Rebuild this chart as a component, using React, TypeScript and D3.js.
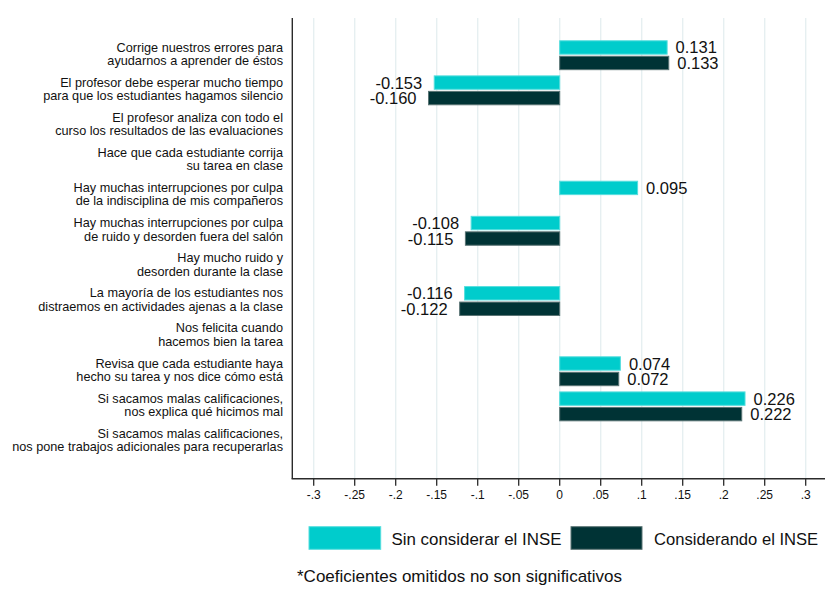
import React from "react";
import * as d3 from "d3";

const categories: string[][] = [
  ["Corrige nuestros errores para", "ayudarnos a aprender de éstos"],
  ["El profesor debe esperar mucho tiempo", "para que los estudiantes hagamos silencio"],
  ["El profesor analiza con todo el", "curso los resultados de las evaluaciones"],
  ["Hace que cada estudiante corrija", "su tarea en clase"],
  ["Hay muchas interrupciones por culpa", "de la indisciplina de mis compañeros"],
  ["Hay muchas interrupciones por culpa", "de ruido y desorden fuera del salón"],
  ["Hay mucho ruido y", "desorden durante la clase"],
  ["La mayoría de los estudiantes nos", "distraemos en actividades ajenas a la clase"],
  ["Nos felicita cuando", "hacemos bien la tarea"],
  ["Revisa que cada estudiante haya", "hecho su tarea y nos dice cómo está"],
  ["Si sacamos malas calificaciones,", "nos explica qué hicimos mal"],
  ["Si sacamos malas calificaciones,", "nos pone trabajos adicionales para recuperarlas"],
];

const sinINSE: (number | null)[] = [0.131, -0.153, null, null, 0.095, -0.108, null, -0.116, null, 0.074, 0.226, null];
const conINSE: (number | null)[] = [0.133, -0.16, null, null, null, -0.115, null, -0.122, null, 0.072, 0.222, null];

const xTicks: number[] = [-0.3, -0.25, -0.2, -0.15, -0.1, -0.05, 0, 0.05, 0.1, 0.15, 0.2, 0.25, 0.3];
const seriesNames: string[] = ["Sin considerar el INSE", "Considerando el INSE"];
const footnote = "*Coeficientes omitidos no son significativos";

const W = 825;
const H = 593;
const FONT = "'Liberation Sans', Arial, Helvetica, sans-serif";
const CYAN = "#00cccc";
const CYAN_STROKE = "#55dede";
const DARK = "#003335";
const DARK_STROKE = "#5a7474";

export default function App() {
  const plotLeft = 292.3;
  const plotTop = 18;
  const plotBottom = 478.7;

  const x = d3.scaleLinear().domain([-0.3, 0.3]).range([313.7, 805.7]);
  const y = d3
    .scaleBand<number>()
    .domain(d3.range(categories.length))
    .range([plotTop, plotBottom])
    .paddingInner(0)
    .paddingOuter(0.56);

  const barH = 13.4;
  const gap = 2.1;
  const fmt = (v: number) => (v < 0 ? "-" : "") + Math.abs(v).toFixed(3);

  const series = [
    { vals: sinINSE, fill: CYAN, stroke: CYAN_STROKE, off: -(gap / 2 + barH) },
    { vals: conINSE, fill: DARK, stroke: DARK_STROKE, off: gap / 2 },
  ];

  return (
    <svg
      width={W}
      height={H}
      viewBox={`0 0 ${W} ${H}`}
      style={{ position: "absolute", left: 0, top: 0, background: "#fff" }}
      fontFamily={FONT}
    >
      <rect x={0} y={0} width={W} height={H} fill="#fff" />
      {/* gridlines */}
      {xTicks.map((t) => (
        <line
          key={"g" + t}
          x1={x(t)}
          x2={x(t)}
          y1={plotTop}
          y2={plotBottom}
          stroke="#e6eff1"
          strokeWidth={1.4}
        />
      ))}
      {/* bars */}
      {series.map((s, si) =>
        s.vals.map((v, i) => {
          if (v === null) return null;
          const c = (y(i) as number) + y.bandwidth() / 2;
          const y0 = c + s.off;
          const x0 = Math.min(x(0), x(v));
          const w = Math.abs(x(v) - x(0));
          const ty = y0 + barH / 2 + 6;
          return (
            <g key={`b${si}-${i}`}>
              <rect x={x0} y={y0} width={w} height={barH} fill={s.fill} stroke={s.stroke} strokeWidth={1} />
              <text
                x={v >= 0 ? x(v) + 8.5 : x(v) - 12}
                y={ty}
                fontSize={16.5}
                textAnchor={v >= 0 ? "start" : "end"}
                fill="#111"
              >
                {fmt(v)}
              </text>
            </g>
          );
        })
      )}
      {/* axes */}
      <line x1={plotLeft} x2={plotLeft} y1={plotTop} y2={plotBottom} stroke="#2b2b2b" strokeWidth={1.4} />
      <line x1={plotLeft - 0.7} x2={W} y1={plotBottom} y2={plotBottom} stroke="#2b2b2b" strokeWidth={1.4} />
      {xTicks.map((t) => (
        <g key={"t" + t}>
          <line x1={x(t)} x2={x(t)} y1={plotBottom} y2={plotBottom + 7} stroke="#2b2b2b" strokeWidth={1.3} />
          <text x={x(t)} y={plotBottom + 20.5} fontSize={12} textAnchor="middle" fill="#111">
            {t === 0 ? "0" : (t < 0 ? "-" : "") + String(Math.abs(t)).replace(/^0/, "")}
          </text>
        </g>
      ))}
      {/* category labels */}
      {categories.map((lines, i) => {
        const c = (y(i) as number) + y.bandwidth() / 2;
        return (
          <text key={"c" + i} x={283} fontSize={12.7} textAnchor="end" fill="#111">
            <tspan x={283} y={c - 3.7}>{lines[0]}</tspan>
            <tspan x={283} y={c + 9.8}>{lines[1]}</tspan>
          </text>
        );
      })}
      {/* legend */}
      <rect x={309} y={526.7} width={71.7} height={22.6} fill={CYAN} stroke={CYAN_STROKE} strokeWidth={1} />
      <text x={391.5} y={545} fontSize={16.9} fill="#111">{seriesNames[0]}</text>
      <rect x={571} y={526.7} width={71} height={22.6} fill={DARK} stroke={DARK_STROKE} strokeWidth={1} />
      <text x={654} y={545} fontSize={16.6} fill="#111">{seriesNames[1]}</text>
      <text x={297} y={581.7} fontSize={17} fill="#111">{footnote}</text>
    </svg>
  );
}
